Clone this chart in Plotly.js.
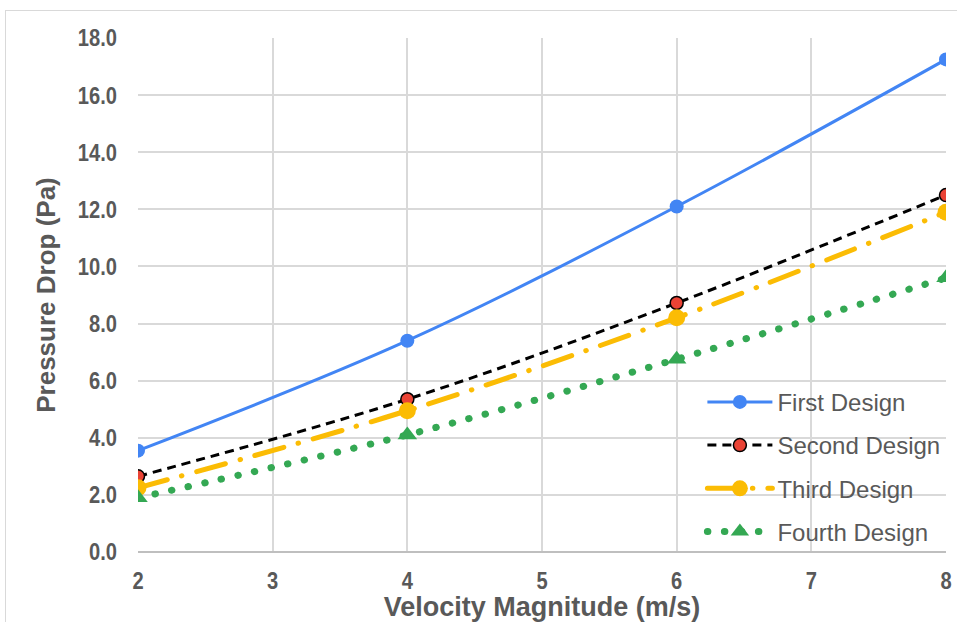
<!DOCTYPE html>
<html><head><meta charset="utf-8">
<script src="https://cdn.plot.ly/plotly-3.0.1.min.js"></script>
<style>
html,body{margin:0;padding:0;background:#fff;}
#frame{position:absolute;left:5px;top:10px;width:1000px;height:700px;border:1px solid #d9d9d9;box-sizing:border-box;}
#chart{position:absolute;left:0;top:0;width:957px;height:622px;}
path.js-line[style*="rgb(52, 168, 83)"], path.js-line[style*="rgb(251, 188, 4)"]{stroke-linecap:round;}
</style></head>
<body>
<div id="frame"></div>
<div id="chart"></div>
<script>
const velocity = [2, 4, 6, 8];
const firstDesign = [3.55, 7.4, 12.1, 17.25];
const secondDesign = [2.65, 5.35, 8.72, 12.5];
const thirdDesign = [2.25, 4.95, 8.2, 11.9];
const fourthDesign = [1.9, 4.1, 6.75, 9.6];
const seriesNames = ['First Design', 'Second Design', 'Third Design', 'Fourth Design'];

const traces = [
  {x: velocity, y: firstDesign, name: seriesNames[0], legendgroup: 'a', mode: 'lines+markers',
   line: {color: '#4285F4', width: 3, shape: 'spline'},
   marker: {color: '#4285F4', size: 14, symbol: 'circle'}},
  {x: velocity, y: secondDesign, name: seriesNames[1], legendgroup: 'b', mode: 'lines+markers',
   line: {color: '#000000', width: 3, dash: '9px,6px', shape: 'spline'},
   marker: {color: '#EA4335', size: 13, symbol: 'circle', line: {color: '#000', width: 1.5}}},
  {x: velocity, y: thirdDesign, name: seriesNames[2], legendgroup: 'c', mode: 'lines+markers',
   line: {color: '#FBBC04', width: 5, dash: '30px,15px,0.5px,15px', shape: 'spline'},
   marker: {color: '#FBBC04', size: 17, symbol: 'circle'}},
  {x: velocity, y: fourthDesign, name: seriesNames[3], legendgroup: 'd', mode: 'lines+markers',
   line: {color: '#34A853', width: 7, dash: '0.5px,16.5px', shape: 'spline'},
   marker: {color: '#34A853', size: 17, symbol: 'triangle-up'}}
];

const tickFont = {family: 'Liberation Sans, Arial, sans-serif', size: 24, weight: 'bold', color: '#595959'};

const layout = {
  width: 957, height: 622,
  paper_bgcolor: 'rgba(0,0,0,0)', plot_bgcolor: '#fff',
  margin: {l: 138, r: 11, t: 38, b: 70},
  font: {family: 'Liberation Sans, Arial, sans-serif', color: '#595959'},
  showlegend: true,
  legend: {x: 0.6985, y: 0.335, xanchor: 'left', yanchor: 'top', bgcolor: 'rgba(0,0,0,0)',
    font: {size: 24, color: '#595959'}, itemwidth: 65, traceorder: 'grouped', tracegroupgap: 9},
  xaxis: {range: [2, 8], dtick: 1, tick0: 2, showgrid: true, gridcolor: '#d9d9d9', gridwidth: 2,
    zeroline: false, showline: false, ticks: '', ticklabelstandoff: 12,
    tickfont: tickFont,
    title: {text: 'Velocity Magnitude (m/s)', font: {size: 27, weight: 'bold', color: '#595959'}, standoff: 2}},
  yaxis: {range: [0, 18], dtick: 2, tickformat: '.1f', showgrid: true, gridcolor: '#d9d9d9', gridwidth: 2,
    zeroline: true, zerolinecolor: '#bfbfbf', zerolinewidth: 2, showline: false, ticks: '', ticklabelstandoff: 20,
    tickfont: tickFont,
    title: {text: 'Pressure Drop (Pa)', font: {size: 26, weight: 'bold', color: '#595959'}, standoff: 7}}
};

Plotly.newPlot('chart', traces, layout, {displayModeBar: false}).then(function (gd) {
  // condense tick labels slightly, like the reference's narrow bold digits
  gd.querySelectorAll('.xtick text, .ytick text').forEach(function (t) {
    const w = t.getComputedTextLength();
    t.setAttribute('textLength', (w * 0.84).toFixed(1));
    t.setAttribute('lengthAdjust', 'spacingAndGlyphs');
  });
});
</script>
</body></html>
